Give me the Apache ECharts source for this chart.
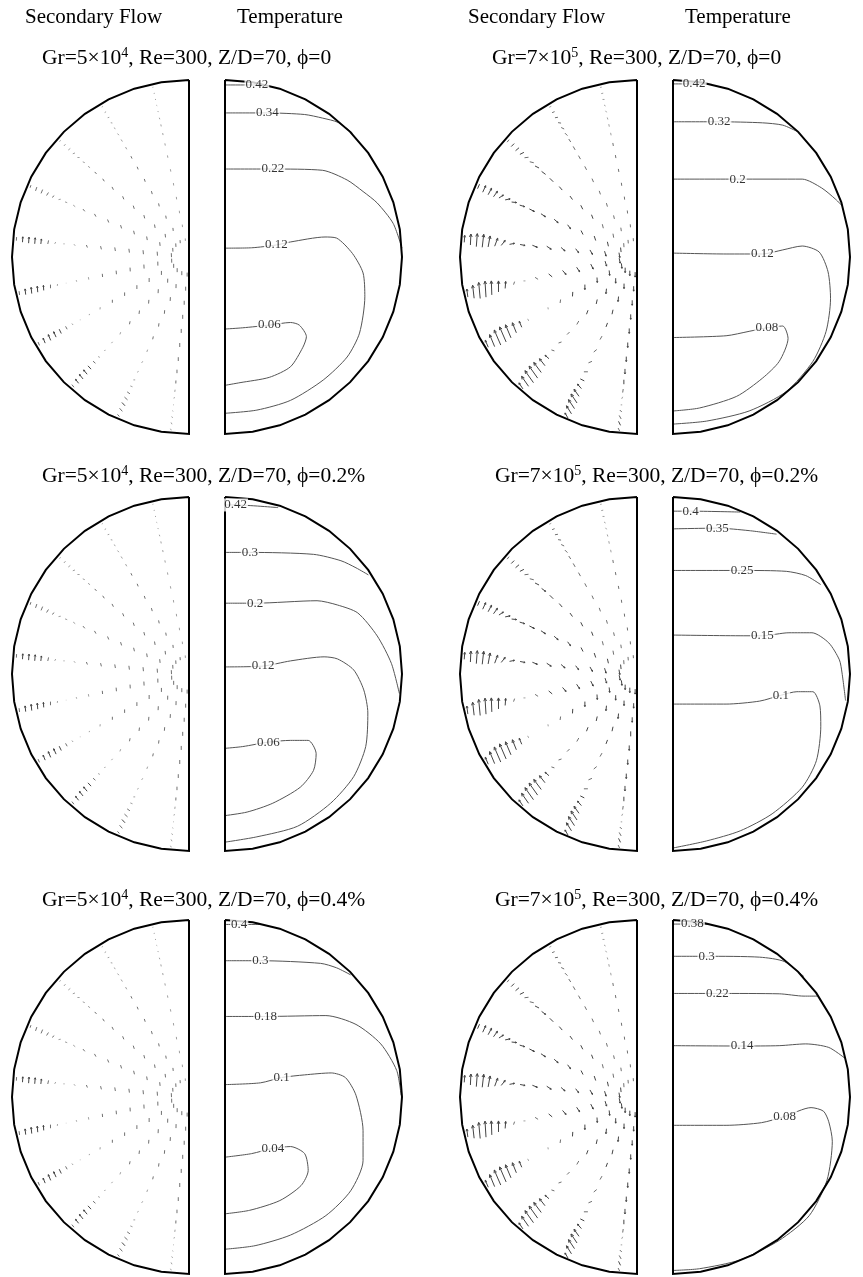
<!DOCTYPE html>
<html><head><meta charset="utf-8">
<script src="https://cdn.jsdelivr.net/npm/echarts@6/dist/echarts.min.js"></script>
<style>html,body{margin:0;padding:0;background:#fff}#c{width:863px;height:1277px}</style>
</head><body><div id="c"></div>
<script>
// ---------------- DATA ----------------
// polar mesh of the secondary-flow plots (angle in degrees, radius normalised to pipe radius)
const rayAngles = [102,120,138,156,174,192,210,228,246,264];
const radii = [0.98,0.945,0.91,0.875,0.84,0.80,0.76,0.71,0.65,0.58,0.50,0.42,0.34,0.26,0.18,0.10];

// secondary-flow vectors [u (right), v (up)], in figure-pixel lengths, one row per ray, wall -> centre
const flowLowGr = [
 [[0.8,0.2],[1,0.2],[1,0],[0.8,-0.5],[0.6,-1],[0.5,-1.5],[0.4,-2],[0.4,-2],[0.4,-2.2],[0.4,-2.3],[0.4,-2.4],[0.3,-2.5],[0.3,-2.5],[0.2,-2.5],[0.2,-2.5],[0.1,-2.5]],
 [[1,0.6],[1.4,0.8],[1.6,0.4],[1.6,-0.3],[1.5,-1],[1.4,-1.6],[1.3,-2],[1.2,-2.2],[1.1,-2.4],[1,-2.6],[0.9,-2.8],[0.8,-3],[0.6,-3],[0.5,-3],[0.3,-3],[0.2,-3]],
 [[1,1.3],[1.6,1.8],[2,1.6],[2.2,0.8],[2.2,0],[2,-0.8],[2,-1.5],[1.8,-2],[1.6,-2.5],[1.4,-2.8],[1.2,-3],[1,-3.2],[0.8,-3.3],[0.6,-3.4],[0.4,-3.5],[0.2,-3.5]],
 [[0.8,2.6],[1.3,3.8],[1.6,3.8],[1.9,3],[2.1,1.8],[2.2,0.4],[2.2,-0.8],[2,-1.6],[1.8,-2.2],[1.5,-2.7],[1.2,-3],[1,-3.3],[0.8,-3.5],[0.6,-3.6],[0.4,-3.7],[0.2,-3.7]],
 [[0.2,3.6],[0.3,5.4],[0.4,6],[0.5,6],[0.6,5],[0.8,3.6],[1,1.8],[1.2,0],[1.2,-1.5],[1,-2.5],[0.8,-3.2],[0.6,-3.6],[0.5,-3.8],[0.4,-4],[0.3,-4],[0.2,-4]],
 [[-0.5,3.8],[-0.6,5.7],[-0.6,6.2],[-0.5,6],[-0.3,5],[0,3.6],[0.2,1.8],[0.4,0],[0.4,-1.5],[0.4,-2.5],[0.3,-3.2],[0.3,-3.6],[0.2,-3.8],[0.2,-4],[0.1,-4],[0.1,-4]],
 [[-1.4,3.3],[-2.1,5],[-2.4,5.7],[-2.4,5.4],[-2.1,4.3],[-1.6,2.9],[-1.1,1.4],[-0.6,0],[-0.3,-1.2],[-0.2,-2.2],[0,-3],[0,-3.5],[0,-3.8],[0,-4],[0,-4],[0,-4]],
 [[-2.1,2.6],[-3.1,4],[-3.6,4.5],[-3.6,4.3],[-3.1,3.3],[-2.4,2.1],[-1.7,0.9],[-1.2,-0.3],[-1,-1.3],[-0.8,-2.2],[-0.6,-3],[-0.4,-3.4],[-0.3,-3.7],[-0.2,-3.9],[-0.1,-4],[0,-4]],
 [[-1.9,2.1],[-2.8,3.1],[-3.1,3.3],[-3.1,2.8],[-2.7,1.9],[-2.2,0.9],[-1.8,0],[-1.4,-0.8],[-1.1,-1.6],[-0.8,-2.3],[-0.6,-2.9],[-0.4,-3.3],[-0.3,-3.6],[-0.2,-3.8],[-0.1,-4],[0,-4]],
 [[-0.8,1.5],[-1,1.8],[-1,1.4],[-0.9,0.6],[-0.7,-0.4],[-0.5,-1.4],[-0.3,-2.2],[-0.1,-3],[0,-3.5],[0,-3.8],[0,-4],[0,-4],[0,-4],[0,-4],[0,-4],[0,-4]]
];
const flowHighGr = [
 [[1.5,0.3],[2,0.4],[2,0],[1.5,-1],[1,-1.5],[0.6,-2],[0.5,-2.5],[0.5,-2.5],[0.5,-3],[0.5,-3],[0.5,-3],[0.4,-3],[0.3,-3],[0.3,-3],[0.2,-3],[0.2,-3]],
 [[2,1],[2.5,1],[3,0.5],[3,-0.5],[3,-1.5],[2.5,-2.5],[2,-3],[2,-3.5],[2,-3.5],[1.8,-3.5],[1.5,-3.5],[1.2,-3.5],[1,-3.5],[0.8,-3.5],[0.5,-3.5],[0.3,-3.5]],
 [[2,2.5],[3,3],[3.5,3],[4,2],[4,0.5],[4,-1],[4,-2],[4,-3],[3.5,-3.5],[3,-3.5],[2.5,-3.5],[2,-4],[1.5,-4],[1,-4],[0.7,-4],[0.3,-4]],
 [[2,4.5],[3,6.5],[3.5,6.5],[4,5.5],[4.5,3],[5,1],[5,-0.5],[5,-1.5],[5,-2.5],[4.5,-3],[4,-3.5],[3,-4],[2,-4],[1.5,-4.5],[1,-4.5],[0.5,-4.5]],
 [[0.5,7],[0.5,11],[1,13],[1.5,13],[2,11],[3,8],[4,5],[5,1],[5,-1],[5,-2],[4.5,-3],[4,-3.5],[3,-4],[2.5,-4.5],[1.5,-5],[0.8,-5]],
 [[-1,8],[-1.5,13],[-1.5,16],[-1,16],[-0.5,14],[0,11],[0.5,7],[1,3],[2,0],[3,-2],[3.5,-3],[3.5,-4],[3,-4.5],[2.5,-5],[1.5,-5],[1,-5]],
 [[-3,7],[-5,12],[-6.5,15],[-6.5,15],[-5.5,13],[-4,10],[-2.5,6],[-1,2],[0,0],[0.3,-2],[-0.5,-3.5],[-0.3,-4.5],[0,-5],[0.3,-5],[0.5,-5],[0.5,-5]],
 [[-4,6],[-7,10],[-8.5,12],[-8.5,12],[-7.5,10],[-5.5,7],[-4,3.5],[-3,1],[-3,-1],[-2.5,-2.5],[-2,-3.5],[-1.5,-4],[-1,-4.5],[-0.5,-5],[0,-5],[0,-5]],
 [[-3,5],[-5,8],[-6,9],[-6,9],[-5,7],[-4,4.5],[-4,2],[-4,0],[-3.5,-1.5],[-3,-2.5],[-2,-3.5],[-1.5,-4],[-1,-4.5],[-0.5,-5],[0,-5],[0,-5]],
 [[-1.5,3],[-2,4],[-2,3.5],[-2,2],[-1.5,0],[-1,-2],[-0.5,-3.5],[0,-4.5],[0,-5],[0,-5],[0,-5],[0,-5],[0,-5],[0,-5],[0,-5],[0,-5]]
];

// temperature iso-lines (x right, y up, normalised to pipe radius): level, label position, points
const tempGr5e4Phi0 = [
 {level:'0.42', at:[0.18,0.972], pts:[[0,0.972],[0.18,0.972],[0.25,0.968]]},
 {level:'0.34', at:[0.24,0.814], pts:[[0,0.814],[0.24,0.814],[0.45,0.805],[0.55,0.785],[0.64,0.76],[0.72,0.70]]},
 {level:'0.22', at:[0.27,0.497], pts:[[0,0.497],[0.27,0.497],[0.55,0.49],[0.69,0.435],[0.78,0.37],[0.86,0.305],[0.95,0.19],[1.0,0.05]]},
 {level:'0.12', at:[0.29,0.068], pts:[[0,0.05],[0.15,0.052],[0.29,0.068],[0.37,0.085],[0.565,0.113],[0.63,0.107],[0.72,0.02],[0.78,-0.09],[0.79,-0.225],[0.76,-0.43],[0.69,-0.565],[0.555,-0.695],[0.37,-0.81],[0.18,-0.865],[0,-0.883]]},
 {level:'0.06', at:[0.25,-0.383], pts:[[0,-0.407],[0.1,-0.40],[0.25,-0.385],[0.37,-0.37],[0.42,-0.385],[0.46,-0.45],[0.44,-0.51],[0.37,-0.62],[0.25,-0.68],[0.085,-0.71],[0,-0.725]]}
];
const tempGr5e4Phi02 = [
 {level:'0.42', at:[0.06,0.955], pts:[[0,0.955],[0.06,0.955],[0.30,0.94]]},
 {level:'0.3', at:[0.14,0.687], pts:[[0,0.687],[0.14,0.687],[0.5,0.676],[0.655,0.64],[0.74,0.60],[0.81,0.56]]},
 {level:'0.2', at:[0.17,0.40], pts:[[0,0.40],[0.17,0.40],[0.52,0.414],[0.635,0.39],[0.75,0.345],[0.86,0.215],[0.94,0.06],[0.985,-0.11]]},
 {level:'0.12', at:[0.216,0.045], pts:[[0,0.04],[0.216,0.045],[0.37,0.074],[0.56,0.097],[0.636,0.085],[0.727,0.023],[0.784,-0.09],[0.807,-0.22],[0.795,-0.41],[0.727,-0.58],[0.597,-0.73],[0.41,-0.86],[0.18,-0.92],[0,-0.95]]},
 {level:'0.06', at:[0.245,-0.385], pts:[[0,-0.42],[0.1,-0.41],[0.245,-0.385],[0.37,-0.375],[0.47,-0.375],[0.515,-0.45],[0.5,-0.545],[0.425,-0.64],[0.27,-0.73],[0.125,-0.78],[0,-0.80]]}
];
const tempGr5e4Phi04 = [
 {level:'0.4', at:[0.08,0.975], pts:[[0,0.975],[0.08,0.975],[0.2,0.975]]},
 {level:'0.3', at:[0.2,0.77], pts:[[0,0.77],[0.2,0.77],[0.54,0.755],[0.63,0.73],[0.71,0.69]]},
 {level:'0.18', at:[0.23,0.455], pts:[[0,0.455],[0.23,0.455],[0.57,0.46],[0.74,0.41],[0.88,0.30],[0.97,0.15],[0.995,0.01]]},
 {level:'0.1', at:[0.32,0.11], pts:[[0,0.07],[0.2,0.08],[0.32,0.11],[0.45,0.125],[0.6,0.136],[0.68,0.11],[0.74,0.01],[0.78,-0.19],[0.78,-0.36],[0.71,-0.53],[0.57,-0.67],[0.37,-0.78],[0.17,-0.84],[0,-0.86]]},
 {level:'0.04', at:[0.27,-0.29], pts:[[0,-0.34],[0.15,-0.32],[0.27,-0.29],[0.37,-0.28],[0.45,-0.32],[0.47,-0.415],[0.43,-0.5],[0.31,-0.585],[0.14,-0.64],[0,-0.66]]}
];
const tempGr7e5Phi0 = [
 {level:'0.42', at:[0.12,0.978], pts:[[0,0.978],[0.12,0.978],[0.22,0.975]]},
 {level:'0.32', at:[0.26,0.764], pts:[[0,0.764],[0.26,0.764],[0.505,0.758],[0.62,0.745],[0.70,0.71]]},
 {level:'0.2', at:[0.365,0.44], pts:[[0,0.44],[0.365,0.44],[0.73,0.44],[0.84,0.39],[0.92,0.325],[0.955,0.29]]},
 {level:'0.12', at:[0.505,0.017], pts:[[0,0.022],[0.3,0.017],[0.505,0.017],[0.62,0.04],[0.73,0.062],[0.826,0.028],[0.876,-0.084],[0.89,-0.236],[0.865,-0.42],[0.79,-0.59],[0.64,-0.76],[0.43,-0.87],[0.19,-0.927],[0,-0.944]]},
 {level:'0.08', at:[0.53,-0.40], pts:[[0,-0.455],[0.3,-0.445],[0.43,-0.42],[0.53,-0.40],[0.62,-0.39],[0.65,-0.46],[0.60,-0.59],[0.505,-0.685],[0.36,-0.787],[0.15,-0.853],[0,-0.87]]}
];
const tempGr7e5Phi02 = [
 {level:'0.4', at:[0.10,0.92], pts:[[0,0.92],[0.10,0.92],[0.38,0.915]]},
 {level:'0.35', at:[0.25,0.824], pts:[[0,0.82],[0.25,0.824],[0.43,0.81],[0.585,0.79]]},
 {level:'0.25', at:[0.39,0.585], pts:[[0,0.585],[0.39,0.585],[0.64,0.58],[0.75,0.556],[0.835,0.505]]},
 {level:'0.15', at:[0.505,0.216], pts:[[0,0.22],[0.4,0.216],[0.505,0.216],[0.655,0.233],[0.785,0.233],[0.88,0.176],[0.94,0.08],[0.955,0.006],[0.975,-0.15]]},
 {level:'0.1', at:[0.61,-0.12], pts:[[0,-0.17],[0.3,-0.17],[0.49,-0.153],[0.61,-0.12],[0.70,-0.10],[0.79,-0.10],[0.83,-0.18],[0.835,-0.295],[0.81,-0.49],[0.73,-0.64],[0.56,-0.79],[0.38,-0.886],[0.19,-0.943],[0,-0.983]]}
];
const tempGr7e5Phi04 = [
 {level:'0.38', at:[0.11,0.977], pts:[[0,0.977],[0.11,0.977],[0.21,0.975]]},
 {level:'0.3', at:[0.19,0.795], pts:[[0,0.795],[0.19,0.795],[0.49,0.79],[0.63,0.765],[0.74,0.68]]},
 {level:'0.22', at:[0.25,0.585], pts:[[0,0.585],[0.25,0.585],[0.6,0.583],[0.74,0.57],[0.815,0.57]]},
 {level:'0.14', at:[0.39,0.288], pts:[[0,0.29],[0.39,0.288],[0.6,0.29],[0.75,0.3],[0.88,0.28],[0.97,0.22]]},
 {level:'0.08', at:[0.63,-0.11], pts:[[0,-0.16],[0.3,-0.16],[0.5,-0.145],[0.63,-0.11],[0.78,-0.06],[0.85,-0.08],[0.88,-0.14],[0.9,-0.25],[0.87,-0.47],[0.77,-0.67],[0.6,-0.81],[0.38,-0.92],[0.15,-0.97],[0,-0.98]]}
];

const columnHeaders = ['Secondary Flow','Temperature'];
const grashof = [['5','4'],['7','5']];          // mantissa, exponent per column
const phiValues = ['0','0.2%','0.4%'];          // per row
const panels = [
 {row:0,col:0,flow:flowLowGr,temp:tempGr5e4Phi0},
 {row:0,col:1,flow:flowHighGr,temp:tempGr7e5Phi0},
 {row:1,col:0,flow:flowLowGr,temp:tempGr5e4Phi02},
 {row:1,col:1,flow:flowHighGr,temp:tempGr7e5Phi02},
 {row:2,col:0,flow:flowLowGr,temp:tempGr5e4Phi04},
 {row:2,col:1,flow:flowHighGr,temp:tempGr7e5Phi04}
];

// ---------------- LAYOUT / STYLE ----------------
const R = 177;
const colFlat = [[189,225],[637,673]];
const rowCY = [257, 674, 1097];
const headerX = [[25,237],[468,685]];
const titleX = [[42,492],[42,495],[42,495]];
const titleCY = [58, 476, 900];
const FONT = 'Liberation Serif';
const VEC_UNIT = 1 / R;
const WALL_STEP = 9;   // degrees between outline vertices

const grids=[], xAxes=[], yAxes=[], series=[], titles=[];
function addGrid(left, top, w, h, xmin, xmax){
  const i = grids.length;
  grids.push({left:left, top:top, width:w, height:h, show:false, containLabel:false});
  xAxes.push({type:'value', gridIndex:i, min:xmin, max:xmax, show:false});
  yAxes.push({type:'value', gridIndex:i, min:-1, max:1, show:false});
  return i;
}
const rad = d => d*Math.PI/180;
function halfOutline(side){
  const pts = [[0,1]];
  for (let a=99; a<=261.01; a+=WALL_STEP){
    const ang = side<0 ? a : 180-a;
    pts.push([Math.cos(rad(ang)), Math.sin(rad(ang))]);
  }
  pts.push([0,-1]); pts.push([0,1]);
  return pts;
}
function outlineSeries(gi, side){
  return {type:'line', xAxisIndex:gi, yAxisIndex:gi, data:halfOutline(side), symbol:'none', clip:false,
    silent:true, z:5, lineStyle:{color:'#000', width:2, join:'miter'}};
}

function vectorRender(params, api){
  const x=api.value(0), y=api.value(1), u=api.value(2), v=api.value(3);
  const a = api.coord([x - u*VEC_UNIT/2, y - v*VEC_UNIT/2]);
  const b = api.coord([x + u*VEC_UNIT/2, y + v*VEC_UNIT/2]);
  const dx=b[0]-a[0], dy=b[1]-a[1], len=Math.hypot(dx,dy);
  const col = len < 2.6 ? '#a0a0a0' : (len < 4.2 ? '#707070' : '#444');
  const ch = [{type:'line', shape:{x1:a[0],y1:a[1],x2:b[0],y2:b[1]}, style:{stroke:col, lineWidth:1}}];
  if (len >= 5){
    const h = Math.min(3.2, len*0.3), ang=Math.atan2(dy,dx), s=0.45;
    ch.push({type:'polyline', shape:{points:[
      [b[0]-h*Math.cos(ang-s), b[1]-h*Math.sin(ang-s)], [b[0],b[1]],
      [b[0]-h*Math.cos(ang+s), b[1]-h*Math.sin(ang+s)]]}, style:{stroke:col, lineWidth:1, fill:null}});
  }
  return {type:'group', children:ch};
}

for (let c=0;c<2;c++) for (let h=0;h<2;h++){
  titles.push({text:columnHeaders[h], left:headerX[c][h], top:5, padding:0,
    textStyle:{fontFamily:FONT, fontSize:21, fontWeight:'normal', color:'#000', lineHeight:24}});
}

panels.forEach(p=>{
  const cy = rowCY[p.row], fl = colFlat[p.col];
  const g = grashof[p.col];
  titles.push({text:'{t|Gr=' + g[0] + '×10}{s|' + g[1] + '}{t|, Re=300, Z/D=70, ϕ=' + phiValues[p.row] + '}',
    left:titleX[p.row][p.col], top:titleCY[p.row]-12, padding:0,
    textStyle:{fontFamily:FONT, fontSize:21.5, fontWeight:'normal', color:'#000', rich:{
      t:{fontFamily:FONT, fontSize:21.5, fontWeight:'normal', lineHeight:24, color:'#000'},
      s:{fontFamily:FONT, fontSize:14, fontWeight:'normal', lineHeight:14, color:'#000', verticalAlign:'top'}}}});

  // secondary flow half
  const gv = addGrid(fl[0]-R, cy-R, R, 2*R, -1, 0);
  const vdata = [];
  rayAngles.forEach((ang,i)=>{
    radii.forEach((r,j)=>{
      const w = p.flow[i][j];
      vdata.push([r*Math.cos(rad(ang)), r*Math.sin(rad(ang)), w[0], w[1]]);
    });
  });
  series.push({type:'custom', xAxisIndex:gv, yAxisIndex:gv, data:vdata, renderItem:vectorRender, silent:true, clip:false, z:3});
  series.push({type:'scatter', xAxisIndex:gv, yAxisIndex:gv, data:[[-0.022,-0.01]], symbol:'emptyCircle', symbolSize:8,
    silent:true, itemStyle:{color:'#fff', borderColor:'#666', borderWidth:1.6}, z:4});
  series.push(outlineSeries(gv,-1));

  // temperature half
  const gt = addGrid(fl[1], cy-R, R, 2*R, 0, 1);
  p.temp.forEach(c=>{
    series.push({type:'line', xAxisIndex:gt, yAxisIndex:gt, data:c.pts, symbol:'none', smooth:0.25, clip:false,
      silent:true, z:3, lineStyle:{color:'#555', width:1}});
  });
  series.push({type:'scatter', xAxisIndex:gt, yAxisIndex:gt, silent:true, z:6, symbolSize:1,
    itemStyle:{color:'#fff'},
    data:p.temp.map(c=>({value:[c.at[0], c.at[1]], name:c.level})),
    label:{show:true, position:'inside', formatter:q=>q.name, fontFamily:FONT, fontSize:13, color:'#000',
      backgroundColor:'#fff', padding:[0,1]}});
  series.push(outlineSeries(gt,1));
});

const chart = echarts.init(document.getElementById('c'), null, {renderer:'canvas', width:863, height:1277});
chart.setOption({animation:false, backgroundColor:'#fff', title:titles, grid:grids, xAxis:xAxes, yAxis:yAxes, series:series});
</script></body></html>
